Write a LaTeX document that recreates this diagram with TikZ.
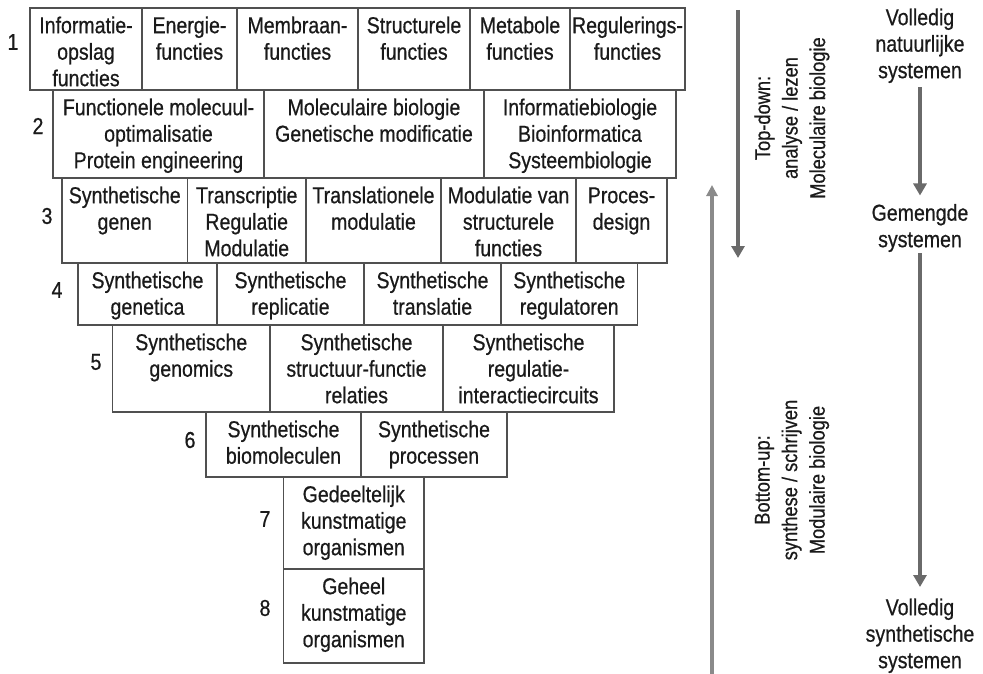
\documentclass[tikz,border=0pt]{standalone}
\usepackage{fontspec}
\setmainfont{Liberation Sans}[FakeStretch=0.85,FakeBold=0.6]
\usetikzlibrary{arrows.meta,calc}
\definecolor{framec}{HTML}{505050}
\definecolor{txtc}{HTML}{1A1A1A}
\definecolor{arrdark}{HTML}{6A6A6A}
\definecolor{arrlight}{HTML}{8A8A8A}
\newcommand\tstrut{\rule{0pt}{18pt}}
\newcommand\cell[6]{%
  \node[frame, anchor=north west, minimum width={#3-#2}, minimum height={#5-#4}] (#1) at (#2,#4) {};
  \node[txt, anchor=north] (#1t) at ($(#1.north)+(0,7)$) {\tstrut #6};
}
\tikzset{
  frame/.style={draw=framec, line width=1.2pt, inner sep=0pt, outer sep=0pt},
  txt/.style={inner sep=0pt, align=center, text=txtc, font=\fontsize{23}{26.5}\selectfont},
  num/.style={inner sep=0pt, text=txtc, font=\fontsize{23}{26.5}\selectfont},
  rot/.style={inner sep=0pt, align=center, text=txtc, rotate=90, font=\fontsize{21.5}{27.5}\selectfont},
  garrow/.style={draw=arrdark, line width=4pt, -{Triangle[width=13pt,length=12pt]}},
  larrow/.style={draw=arrlight, line width=3.6pt, -{Triangle[width=11pt,length=11pt]}}
}
\begin{document}
\begin{tikzpicture}[x=1pt,y=-1pt]
\useasboundingbox (0,0) rectangle (983,674);
% row 1
\cell{a1}{30}{142}{8}{90}{Informatie-\\opslag\\functies}
\cell{a2}{142}{237}{8}{90}{Energie-\\functies}
\cell{a3}{237}{358}{8}{90}{Membraan-\\functies}
\cell{a4}{358}{470}{8}{90}{Structurele\\functies}
\cell{a5}{470}{570}{8}{90}{Metabole\\functies}
\cell{a6}{570}{685}{8}{90}{Regulerings-\\functies}
% row 2
\cell{b1}{53}{264}{90}{178}{Functionele molecuul-\\optimalisatie\\Protein engineering}
\cell{b2}{264}{484}{90}{178}{Moleculaire biologie\\Genetische modificatie}
\cell{b3}{484}{676}{90}{178}{Informatiebiologie\\Bioinformatica\\Systeembiologie}
% row 3
\cell{c1}{62}{187.5}{178}{263}{Synthetische\\genen}
\cell{c2}{187.5}{306}{178}{263}{Transcriptie\\Regulatie\\Modulatie}
\cell{c3}{306}{441}{178}{263}{Translationele\\modulatie}
\cell{c4}{441}{576}{178}{263}{Modulatie van\\structurele\\functies}
\cell{c5}{576}{667}{178}{263}{Proces-\\design}
% row 4
\cell{d1}{78}{217}{263}{325}{Synthetische\\genetica}
\cell{d2}{217}{364}{263}{325}{Synthetische\\replicatie}
\cell{d3}{364}{501}{263}{325}{Synthetische\\translatie}
\cell{d4}{501}{637.5}{263}{325}{Synthetische\\regulatoren}
% row 5
\cell{e1}{112.5}{270}{325}{412}{Synthetische\\genomics}
\cell{e2}{270}{443}{325}{412}{Synthetische\\structuur-functie\\relaties}
\cell{e3}{443}{614}{325}{412}{Synthetische\\regulatie-\\interactiecircuits}
% row 6
\cell{f1}{206}{361}{412}{477}{Synthetische\\biomoleculen}
\cell{f2}{361}{507}{412}{477}{Synthetische\\processen}
% row 7, 8
\cell{g1}{283.5}{424}{477}{569}{Gedeeltelijk\\kunstmatige\\organismen}
\cell{h1}{283.5}{424}{569}{663}{Geheel\\kunstmatige\\organismen}
% level numbers
\node[num] (n1) at (13,42) {1};
\node[num] (n2) at (38,126) {2};
\node[num] (n3) at (47,216) {3};
\node[num] (n4) at (57,290) {4};
\node[num] (n5) at (96,362) {5};
\node[num] (n6) at (190,440) {6};
\node[num] (n7) at (265,519) {7};
\node[num] (n8) at (265,608) {8};
% vertical direction arrows
\coordinate (tdS) at (738,10);
\coordinate (tdE) at (738,258);
\coordinate (buS) at (712,674);
\coordinate (buE) at (712,185);
\draw[garrow] (tdS) -- (tdE);
\draw[larrow] (buS) -- (buE);
\node[rot] (td) at (792,118) {Top-down:\\analyse / lezen\\Moleculaire biologie};
\node[rot] (bu) at (792,480) {Bottom-up:\\synthese / schrijven\\Modulaire biologie};
% right column
\node[txt, anchor=north] (vns) at (920,7) {\tstrut Volledig\\natuurlijke\\systemen};
\node[txt, anchor=north] (gs) at (920,202.5) {\tstrut Gemengde\\systemen};
\node[txt, anchor=north] (vss) at (920,597) {\tstrut Volledig\\synthetische\\systemen};
\draw[garrow, shorten <=4pt, shorten >=7pt] (vns.south) -- (gs.north);
\draw[garrow, shorten <=1pt, shorten >=10pt] (gs.south) -- (vss.north);
\end{tikzpicture}
\end{document}
